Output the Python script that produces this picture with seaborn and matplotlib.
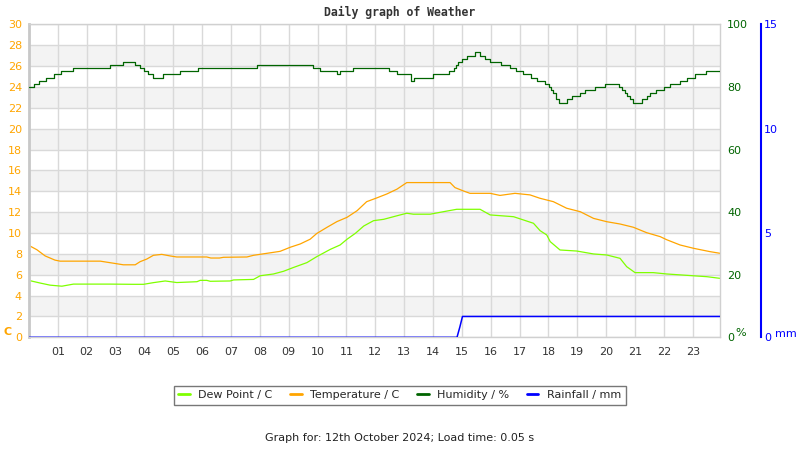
import seaborn as sns
import matplotlib.pyplot as plt
from matplotlib.lines import Line2D

# values (hour of day -> value)
temp_hours = [0.0, 0.27, 0.56, 0.9, 1.08, 2.47, 2.93, 3.27, 3.68, 3.85, 4.08, 4.31, 4.6, 4.89,
              5.12, 6.16, 6.3, 6.6, 6.74, 7.55, 7.78, 8.24, 8.7, 9.05, 9.4, 9.74, 9.97, 10.33,
              10.67, 11.02, 11.37, 11.7, 12.05, 12.4, 12.75, 13.09, 13.55, 14.59, 14.76, 15.05,
              15.28, 15.98, 16.32, 16.84, 17.36, 17.7, 18.17, 18.63, 19.1, 19.56, 20.02, 20.48,
              20.94, 21.4, 21.87, 22.1, 22.56, 23.03, 23.6, 23.95]
temp_c = [8.8, 8.4, 7.8, 7.4, 7.3, 7.3, 7.1, 6.95, 6.95, 7.25, 7.5, 7.86, 7.95, 7.8,
          7.7, 7.7, 7.6, 7.6, 7.67, 7.7, 7.86, 8.05, 8.24, 8.63, 8.95, 9.4, 9.95, 10.55,
          11.09, 11.5, 12.14, 13.0, 13.36, 13.74, 14.2, 14.83, 14.83, 14.83, 14.35, 14.03,
          13.8, 13.8, 13.6, 13.8, 13.65, 13.33, 13.0, 12.37, 12.04, 11.4, 11.08, 10.86,
          10.55, 10.03, 9.65, 9.35, 8.85, 8.53, 8.21, 8.05]

dew_hours = [0.0, 0.39, 0.73, 1.14, 1.54, 2.81, 3.62, 3.97, 4.31, 4.72, 5.12, 5.82, 5.93, 6.16,
             6.28, 6.97, 7.09, 7.78, 8.01, 8.47, 8.82, 9.17, 9.63, 9.97, 10.44, 10.78, 11.02,
             11.31, 11.6, 11.94, 12.29, 12.63, 12.86, 13.09, 13.32, 13.9, 14.36, 14.82, 15.17,
             15.63, 15.98, 16.79, 17.13, 17.48, 17.71, 17.94, 18.06, 18.4, 18.98, 19.56, 20.02,
             20.48, 20.71, 21.0, 21.63, 22.1, 22.8, 23.49, 23.95]
dew_c = [5.45, 5.2, 5.0, 4.9, 5.1, 5.1, 5.08, 5.08, 5.24, 5.4, 5.25, 5.33, 5.46, 5.46,
         5.37, 5.4, 5.5, 5.55, 5.9, 6.07, 6.33, 6.7, 7.16, 7.73, 8.43, 8.85, 9.4,
         9.97, 10.67, 11.18, 11.31, 11.56, 11.73, 11.89, 11.8, 11.8, 12.04, 12.27, 12.27,
         12.27, 11.73, 11.56, 11.25, 10.93, 10.22, 9.81, 9.17, 8.37, 8.27, 7.99, 7.89,
         7.57, 6.77, 6.2, 6.2, 6.07, 5.94, 5.81, 5.65]

hum_hours = [0.0, 0.19, 0.36, 0.6, 0.85, 1.12, 1.52, 2.79, 3.24, 3.66, 3.83, 3.97, 4.14, 4.29,
             4.66, 5.24, 5.87, 7.9, 9.84, 10.09, 10.67, 10.78, 11.24, 12.46, 12.75, 13.22, 13.33,
             14.0, 14.57, 14.71, 14.8, 14.88, 15.0, 15.17, 15.46, 15.63, 15.81, 15.98, 16.36,
             16.67, 16.88, 17.13, 17.4, 17.6, 17.89, 18.02, 18.1, 18.17, 18.25, 18.35, 18.64,
             18.81, 19.1, 19.27, 19.62, 19.97, 20.43, 20.54, 20.65, 20.72, 20.83, 20.92, 21.24,
             21.41, 21.52, 21.73, 21.99, 22.22, 22.56, 22.8, 23.08, 23.46, 23.95]
hum_pct = [80, 81, 82, 83, 84, 85, 86, 87, 88, 87, 86, 85, 84, 83,
           84, 85, 86, 87, 86, 85, 84, 85, 86, 85, 84, 82, 83,
           84, 85, 86, 87, 88, 89, 90, 91, 90, 89, 88, 87,
           86, 85, 84, 83, 82, 81, 80, 79, 78, 76, 75, 76,
           77, 78, 79, 80, 81, 80, 79, 78, 77, 76, 75, 76,
           77, 78, 79, 80, 81, 82, 83, 84, 85, 85]

rain_hours = [0.0, 14.83, 14.93, 15.02, 23.95]
rain_mm = [0.0, 0.0, 0.5, 1.0, 1.0]

hour_labels = ["%02d" % h for h in range(1, 24)]

sns.set_theme(style="white")
plt.rcParams['font.family'] = ['DejaVu Sans']

fig = plt.figure(figsize=(8, 4.5), dpi=100)
ax = fig.add_axes([0.03625, 0.2504, 0.864, 0.6956])

# grey bands + grid
for y0 in range(2, 30, 4):
    ax.axhspan(y0, y0 + 2, color="#f3f3f3", zorder=0, lw=0)

sns.lineplot(x=dew_hours, y=dew_c, color="#7fff00", lw=0.9, estimator=None, ax=ax)
sns.lineplot(x=temp_hours, y=temp_c, color="#ffa500", lw=0.9, estimator=None, ax=ax)

ax.set_xlim(0, 23.95)
ax.set_ylim(0, 30)
ax.set_yticks(range(0, 31, 2))
ax.set_xticks(range(1, 24))
ax.set_xticklabels(hour_labels)
ax.grid(True, color="#d9d9d9", lw=1)
ax.set_axisbelow(True)
ax.tick_params(axis="y", colors="#ffa500", labelsize=8, length=0, pad=5)
ax.tick_params(axis="x", colors="#333333", labelsize=8, length=0, pad=7)
for s in ["top", "right", "bottom"]:
    ax.spines[s].set_color("#d0d0d0")
    ax.spines[s].set_linewidth(1)
ax.spines["left"].set_color("#c8c8c8")
ax.spines["left"].set_linewidth(2)

# humidity axis
ax2 = ax.twinx()
sns.lineplot(x=hum_hours, y=hum_pct, color="#006400", lw=0.9, estimator=None,
             drawstyle="steps-post", ax=ax2)
ax2.set_ylim(0, 100)
ax2.set_yticks(range(0, 101, 20))
ax2.tick_params(axis="y", colors="#006400", labelsize=8, length=0, pad=5)
ax2.grid(False)
for s in ax2.spines.values():
    s.set_visible(False)

# rainfall axis
ax3 = ax.twinx()
sns.lineplot(x=rain_hours, y=rain_mm, color="#0000ff", lw=1.1, estimator=None, ax=ax3)
ax3.set_ylim(0, 15)
ax3.set_yticks([0, 5, 10, 15])
ax3.spines["right"].set_position(("axes", 1.059))
ax3.tick_params(axis="y", colors="#0000ff", labelsize=8, length=0, pad=2)
ax3.grid(False)
for s in ["top", "left", "bottom"]:
    ax3.spines[s].set_visible(False)
ax3.spines["right"].set_color("#0000ff")
ax3.spines["right"].set_linewidth(1.5)

ax.set_xlabel("")
ax.set_ylabel("")
ax2.set_ylabel("")
ax3.set_ylabel("")

fig.text(0.5, 0.972, "Daily graph of Weather", ha="center", va="center",
         fontsize=8.3, fontweight="bold", family="DejaVu Sans Mono", color="#333333")
fig.text(0.004, 0.262, "C", color="#ffa500", fontsize=8, fontweight="bold", va="center")
fig.text(0.919, 0.26, "%", color="#006400", fontsize=8, va="center")
fig.text(0.969, 0.258, "mm", color="#0000ff", fontsize=8, va="center")

handles = [Line2D([], [], color="#7fff00", lw=2),
           Line2D([], [], color="#ffa500", lw=2),
           Line2D([], [], color="#006400", lw=2),
           Line2D([], [], color="#0000ff", lw=2)]
labels = ["Dew Point / C", "Temperature / C", "Humidity / %", "Rainfall / mm"]
leg = fig.legend(handles, labels, loc="center", bbox_to_anchor=(0.5, 0.122), ncol=4,
                 fontsize=8, handlelength=1.0, handletextpad=0.8, columnspacing=1.6,
                 fancybox=False, edgecolor="#777777", framealpha=1, borderpad=0.4)
leg.get_frame().set_linewidth(1)

fig.text(0.5, 0.027, "Graph for: 12th October 2024; Load time: 0.05 s", ha="center",
         va="center", fontsize=8, color="#222222")

fig.savefig("out.png", dpi=100)
